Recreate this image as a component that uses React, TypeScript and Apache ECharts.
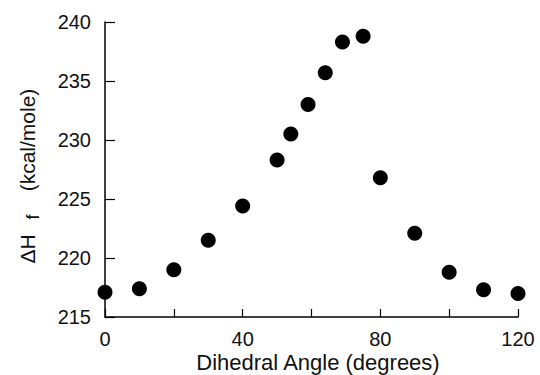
import React, { useEffect, useRef } from "react";
import * as echarts from "echarts";

const angles = [0, 10, 20, 30, 40, 50, 54, 59, 64, 69, 75, 80, 90, 100, 110, 120];
const dHf = [217.1, 217.4, 219.0, 221.5, 224.4, 228.3, 230.5, 233.0, 235.7, 238.3, 238.8, 226.8, 222.1, 218.8, 217.3, 217.0];
const xLabelTicks = [0, 40, 80, 120];
const yTitleMain = "ΔH";
const yTitleSub = "f";
const yTitleUnit = "(kcal/mole)";
const xTitle = "Dihedral Angle (degrees)";

const FONT = "'Liberation Sans', Arial, Helvetica, sans-serif";

export default function App() {
  const ref = useRef<HTMLDivElement>(null);
  useEffect(() => {
    if (!ref.current) return;
    const chart = echarts.init(ref.current, null, { renderer: "svg" });
    chart.setOption({
      animation: false,
      backgroundColor: "#ffffff",
      grid: { left: 105, right: 22, top: 22, bottom: 58, containLabel: false },
      xAxis: {
        type: "value",
        min: 0,
        max: 120,
        interval: 20,
        axisLine: { show: true, lineStyle: { color: "#000", width: 1.5 } },
        axisTick: { show: true, inside: true, length: 8, lineStyle: { color: "#000", width: 1.2 } },
        splitLine: { show: false },
        axisLabel: {
          margin: 12,
          color: "#111",
          fontSize: 20,
          fontFamily: FONT,
          formatter: (v: number) => (xLabelTicks.includes(v) ? String(v) : ""),
        },
      },
      yAxis: {
        type: "value",
        min: 215,
        max: 240,
        interval: 5,
        axisLine: { show: true, lineStyle: { color: "#000", width: 1.5 } },
        axisTick: { show: true, inside: true, length: 10, lineStyle: { color: "#000", width: 1.2 } },
        splitLine: { show: false },
        axisLabel: { margin: 14, color: "#111", fontSize: 20, fontFamily: FONT },
      },
      graphic: [
        {
          type: "text",
          x: 318,
          y: 362,
          style: { text: xTitle, fontSize: 22, fontFamily: FONT, fill: "#111", align: "center", verticalAlign: "middle" },
        },
        {
          type: "text",
          x: 27,
          y: 140,
          rotation: Math.PI / 2,
          style: { text: yTitleUnit, fontSize: 21, fontFamily: FONT, fill: "#111", align: "center", verticalAlign: "middle" },
        },
        {
          type: "text",
          x: 27,
          y: 249,
          rotation: Math.PI / 2,
          style: { text: yTitleMain, fontSize: 21, fontFamily: FONT, fill: "#111", align: "center", verticalAlign: "middle" },
        },
        {
          type: "text",
          x: 33,
          y: 217,
          rotation: Math.PI / 2,
          style: { text: yTitleSub, fontSize: 18, fontFamily: FONT, fill: "#111", align: "center", verticalAlign: "middle" },
        },
      ],
      series: [
        {
          type: "scatter",
          data: angles.map((a, i) => [a, dHf[i]]),
          symbol: "circle",
          symbolSize: 15,
          clip: false,
          itemStyle: { color: "#000", opacity: 1 },
        },
      ],
    });
    return () => chart.dispose();
  }, []);
  return <div ref={ref} style={{ width: 540, height: 375, position: "absolute", left: 0, top: 0 }} />;
}
